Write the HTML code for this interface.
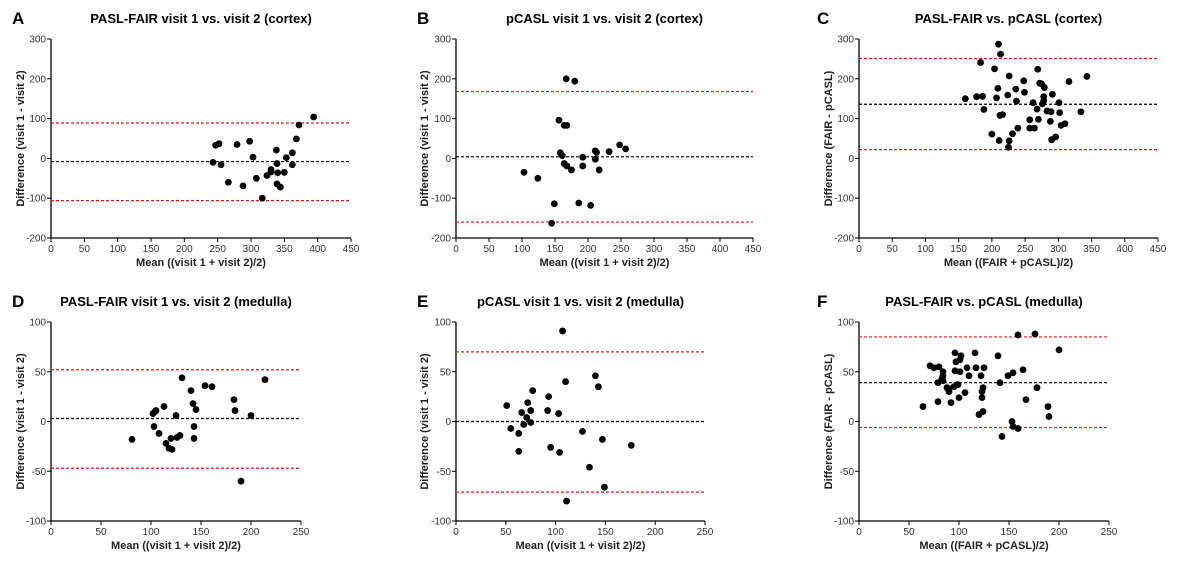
<!DOCTYPE html>
<html><head><meta charset="utf-8"><style>
html,body{margin:0;padding:0;background:#fff;}
svg{display:block;font-family:"Liberation Sans",Arial,sans-serif;}
</style></head><body>
<svg id="fig" width="1187" height="564" viewBox="0 0 1187 564"></svg>
<script>
// Panel A data
const aX=[243,247,252,255,266,279,288,298,303,308,317,324,330,330,338,339,340,339,344,350,353,362,362,368,372,394];
const aY=[-10,33,37,-16,-60,35,-69,43,3,-50,-100,-43,-28,-34,21,-13,-36,-64,-72,-35,2,14,-16,49,84,104];
const aLines=[-8,89,-106];
// Panel B data
const bX=[103,124,145,149,156,158,161,164,168,164,168,167,175,180,186,192,192,204,211,211,213,217,232,248,257];
const bY=[-35,-50,-163,-114,96,14,7,83,83,-13,-19,200,-29,194,-112,3,-19,-118,19,-2,15,-29,17,34,24];
const bLines=[4,168,-160];
// Panel C data
const cX=[160,177,183,186,188,204,207,209,210,213,212,216,211,200,225,226,224,226,231,236,237,239,248,249,257,257,262,264,268,270,269,272,275,279,278,278,276,283,289,291,288,290,296,301,302,304,310,316,334,343];
const cY=[150,155,241,156,123,225,152,176,287,262,108,110,45,61,28,44,159,207,62,174,144,76,195,166,97,76,140,76,124,98,224,189,187,178,155,145,137,119,117,161,93,47,54,140,115,83,87,193,117,206];
const cLines=[136,251,22];
// Panel D data
const dX=[81,102,104,105,103,108,113,115,118,121,120,125,126,129,131,140,142,145,143,143,154,161,183,184,190,200,214];
const dY=[-18,8,10,11,-5,-12,15,-22,-27,-28,-17,6,-16,-14,44,31,18,12,-5,-17,36,35,22,11,-60,6,42];
const dLines=[3,52,-47];
// Panel E data
const eX=[51,55,63,63,66,68,71,72,75,75,77,92,93,95,103,104,107,110,111,127,134,140,143,147,149,176];
const eY=[16,-7,-12,-30,9,-3,4,19,11,-1,31,11,25,-26,8,-31,91,40,-80,-10,-46,46,35,-18,-66,-24];
const eLines=[0,70,-71];
// Panel F data
const fX=[64,71,75,80,79,79,84,84,83,84,88,90,90,92,95,96,96,97,99,100,101,101,102,106,108,110,116,117,120,122,123,123,124,124,125,139,141,149,153,154,154,159,159,164,167,176,178,189,190,200,143];
const fY=[15,56,54,55,39,20,50,46,43,41,34,33,30,19,35,69,51,60,37,24,50,62,66,29,54,46,69,54,7,46,30,24,34,10,54,66,39,46,0,49,-5,87,-7,52,22,88,34,15,5,72,-15];
const fLines=[39,85,-6];
// Tick labels
const ticksCortexX=[0,50,100,150,200,250,300,350,400,450];
const ticksCortexY=[-200,-100,0,100,200,300];
const ticksMedX=[0,50,100,150,200,250];
const ticksMedY=[-100,-50,0,50,100];

const NS="http://www.w3.org/2000/svg";
const svg=document.getElementById('fig');
function mk(tag,attrs,parent){const e=document.createElementNS(NS,tag);for(const k in attrs)e.setAttribute(k,attrs[k]);(parent||svg).appendChild(e);return e;}

const panels=[
 {id:'a',letter:'A',title:'PASL-FAIR visit 1 vs. visit 2 (cortex)',xt:'Mean ((visit 1 + visit 2)/2)',yt:'Difference (visit 1 - visit 2)',x0:51,x1:351,y0:39,y1:238,lx:12,ytx:20,xs:aX,ys:aY,lines:aLines,tx:ticksCortexX,ty:ticksCortexY},
 {id:'b',letter:'B',title:'pCASL visit 1 vs. visit 2 (cortex)',xt:'Mean ((visit 1 + visit 2)/2)',yt:'Difference (visit 1 - visit 2)',x0:456,x1:753,y0:39,y1:238,lx:417,ytx:424,xs:bX,ys:bY,lines:bLines,tx:ticksCortexX,ty:ticksCortexY},
 {id:'c',letter:'C',title:'PASL-FAIR vs. pCASL (cortex)',xt:'Mean ((FAIR + pCASL)/2)',yt:'Difference (FAIR - pCASL)',x0:859,x1:1158,y0:39,y1:238,lx:817,ytx:828,xs:cX,ys:cY,lines:cLines,tx:ticksCortexX,ty:ticksCortexY},
 {id:'d',letter:'D',title:'PASL-FAIR visit 1 vs. visit 2 (medulla)',xt:'Mean ((visit 1 + visit 2)/2)',yt:'Difference (visit 1 - visit 2)',x0:51,x1:301,y0:322,y1:521,lx:12,ytx:20,xs:dX,ys:dY,lines:dLines,tx:ticksMedX,ty:ticksMedY},
 {id:'e',letter:'E',title:'pCASL visit 1 vs. visit 2 (medulla)',xt:'Mean ((visit 1 + visit 2)/2)',yt:'Difference (visit 1 - visit 2)',x0:456,x1:705,y0:322,y1:521,lx:417,ytx:424,xs:eX,ys:eY,lines:eLines,tx:ticksMedX,ty:ticksMedY},
 {id:'f',letter:'F',title:'PASL-FAIR vs. pCASL (medulla)',xt:'Mean ((FAIR + pCASL)/2)',yt:'Difference (FAIR - pCASL)',x0:859,x1:1109,y0:322,y1:521,lx:817,ytx:828,xs:fX,ys:fY,lines:fLines,tx:ticksMedX,ty:ticksMedY}
];

panels.forEach(p=>{
 const g=mk('g',{});
 
 
 const xmin=p.tx[0],xmax=p.tx[p.tx.length-1],ymin=p.ty[0],ymax=p.ty[p.ty.length-1];
 const sx=v=>p.x0+(v-xmin)/(xmax-xmin)*(p.x1-p.x0);
 const sy=v=>p.y1-(v-ymin)/(ymax-ymin)*(p.y1-p.y0);
 const L=mk('text',{x:p.lx,y:p.y0-15,'font-size':17,'font-weight':'bold',fill:'#000'},g);L.textContent=p.letter;
 
 
 const T=mk('text',{x:(p.x0+p.x1)/2,y:p.y0-16,'font-size':13,'font-weight':'bold','text-anchor':'middle',fill:'#000'},g);T.textContent=p.title;
 
 
 // axes
 const ax=mk('line',{x1:p.x0,y1:p.y1,x2:p.x1,y2:p.y1,stroke:'#000','stroke-width':1.3},g);
 
 
 const ay=mk('line',{x1:p.x0,y1:p.y0,x2:p.x0,y2:p.y1,stroke:'#000','stroke-width':1.3},g);
 
 
 p.tx.forEach(t=>{
  const x=sx(t);
  mk('line',{x1:x,y1:p.y1,x2:x,y2:p.y1+4,stroke:'#000','stroke-width':1},g);
  const tl=mk('text',{x:x,y:p.y1+14,'font-size':10,'text-anchor':'middle',fill:'#333'},g);tl.textContent=t;
  
  
 });
 p.ty.forEach(t=>{
  const y=sy(t);
  mk('line',{x1:p.x0-4,y1:y,x2:p.x0,y2:y,stroke:'#000','stroke-width':1},g);
  const tl=mk('text',{x:p.x0-5,y:y+3.5,'font-size':10,'text-anchor':'end',fill:'#333'},g);tl.textContent=t;
  
  
 });
 const xt=mk('text',{x:(p.x0+p.x1)/2,y:p.y1+28,'font-size':11,'font-weight':'bold','text-anchor':'middle',fill:'#222'},g);xt.textContent=p.xt;
 
 
 const yc=(p.y0+p.y1)/2;
 const yt=mk('text',{x:p.ytx,y:yc,'font-size':11,'font-weight':'bold','text-anchor':'middle',fill:'#222',transform:`rotate(-90 ${p.ytx} ${yc})`,dy:4},g);yt.textContent=p.yt;
 
 
 // lines
 p.lines.forEach((v,i)=>{
  const ln=mk('line',{x1:p.x0,y1:sy(v),x2:p.x1,y2:sy(v),stroke:i===0?'#000':'#e8141c','stroke-width':1.2,'stroke-dasharray':'3,2'},g);
  
  
 });
 p.xs.forEach((v,i)=>{
  const c=mk('circle',{cx:sx(v),cy:sy(p.ys[i]),r:3.4,fill:'#000'},g);
  
  
 });
});
</script>
</body></html>
